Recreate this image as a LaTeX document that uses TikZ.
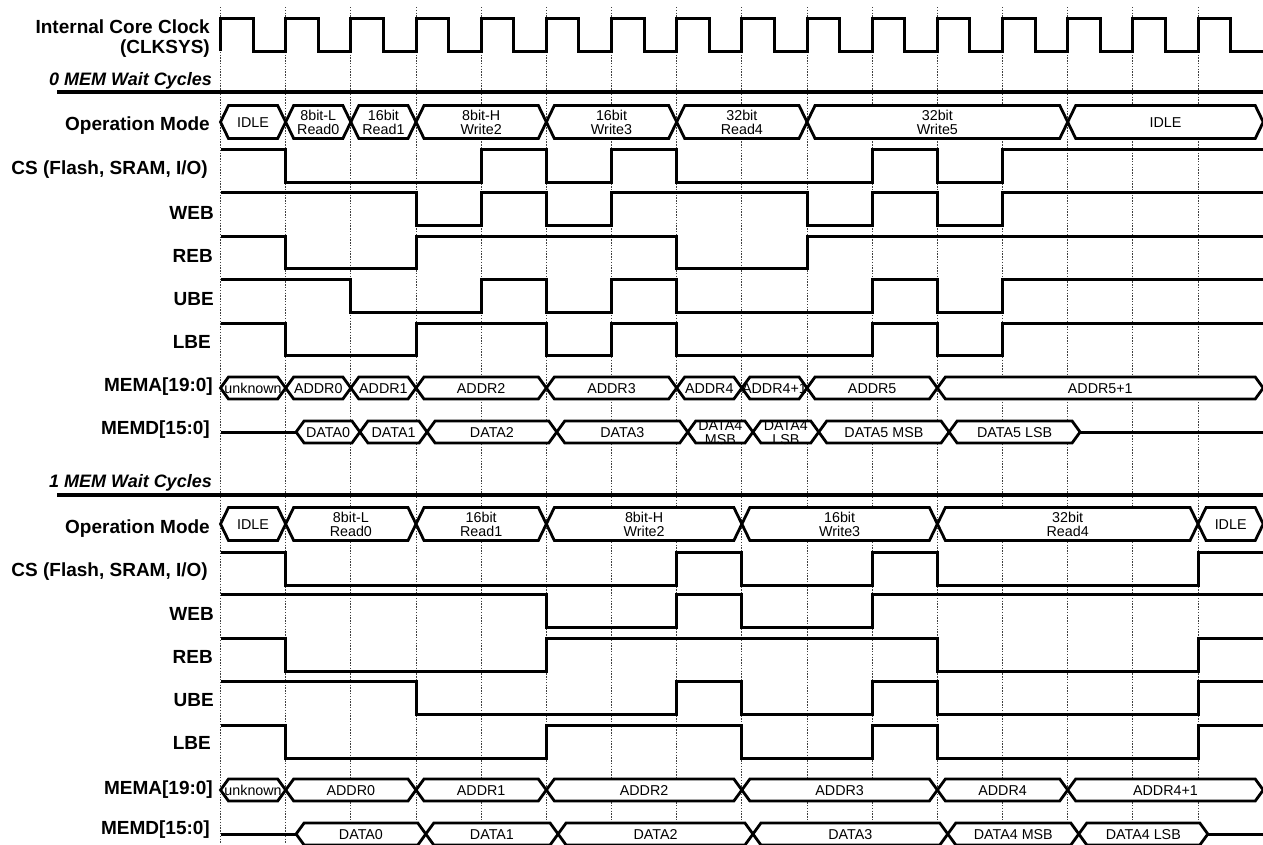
\documentclass[tikz,border=0pt]{standalone}
\usepackage{fontspec}
\setmainfont{Liberation Sans}

% one bus row: centre y, half height, list of from/to/text (in clock periods)
\newcommand{\busrow}[3]{
    \foreach \a/\b/\txt in {#3} {
        \pgfmathsetmacro{\xa}{220.5+65.17*\a}
        \pgfmathsetmacro{\xb}{220.5+65.17*\b}
        \draw[busedge] (\xa,#1) -- (\xa+8,#1-#2) -- (\xb-8,#1-#2) -- (\xb,#1)
            -- (\xb-8,#1+#2) -- (\xa+8,#1+#2) -- cycle;
    }
    \foreach \a/\b/\txt [count=\n] in {#3} {
        \pgfmathsetmacro{\xm}{220.5+65.17*(\a+\b)/2}
        \node[bustext] (bus#1n\n) at (\xm,#1+0.5) {\txt};
    }
}

\begin{document}
\begin{tikzpicture}[
    x=1pt, y=-1pt,
    sigline/.style={line width=3pt},
    busedge/.style={line width=2.8pt, fill=white},
    bustext/.style={inner sep=0pt, align=center, font=\fontsize{14.3}{14.5}\selectfont},
    barline/.style={line width=4.7pt},
    gridline/.style={black!75, line width=0.9pt, dash pattern=on 1.4pt off 1.4pt},
    siglabel/.style={left, inner sep=0pt, align=right, font=\fontsize{19}{20}\selectfont\bfseries},
    seclabel/.style={left, inner sep=0pt, font=\fontsize{18}{20}\selectfont\bfseries\itshape}
]
    \useasboundingbox (0,0) rectangle (1263,844);

    % Grid, one line per clock period
    \foreach \k in {0,...,15} {
        \pgfmathsetmacro{\gx}{220.5+65.17*\k}
        \draw[gridline] (\gx,7) -- (\gx,844);
    }

    % Section bars
    \draw[barline] (57,92) -- (1263,92);
    \draw[barline] (57,495) -- (1263,495);

    % Signal names
    \node[siglabel] (clklabel) at (210,39) {Internal Core Clock\\(CLKSYS)};
    \node[seclabel] (wait0) at (212,81) {0 MEM Wait Cycles};
    \node[seclabel] (wait1) at (212,483) {1 MEM Wait Cycles};
    \foreach \txt/\rx/\y in {Operation Mode/210/126, {CS (Flash, SRAM, I/O)}/208/170,
        WEB/214/213, REB/213/256, UBE/214/299, LBE/211/342,
        {MEMA[19:0]}/213/387, {MEMD[15:0]}/210/430,
        Operation Mode/210/529, {CS (Flash, SRAM, I/O)}/208/572,
        WEB/214/614, REB/213/657, UBE/214/700, LBE/211/743,
        {MEMA[19:0]}/213/790, {MEMD[15:0]}/210/830} {
        \node[siglabel] (name\y) at (\rx,\y) {\txt};
    }

    \begin{scope}[xshift=220.5pt, x=65.17pt]
        % Internal core clock
        \draw[sigline] (0,51) \foreach \k in {0,...,15} {
            -- (\k,18) -- (\k+0.5,18) -- (\k+0.5,51) -- (\k+1,51)
        };

        % 0 MEM wait cycles
        \draw[sigline] (0,149) -| (1,182.5) -| (4,149) -| (5,182.5) -| (6,149) -| (7,182.5) -| (10,149) -| (11,182.5) -| (12,149) -- (16,149);
        \draw[sigline] (0,192) -| (3,225) -| (4,192) -| (5,225) -| (6,192) -| (9,225) -| (10,192) -| (11,225) -| (12,192) -- (16,192);
        \draw[sigline] (0,236) -| (1,268.5) -| (3,236) -| (7,268.5) -| (9,236) -- (16,236);
        \draw[sigline] (0,279) -| (2,312) -| (4,279) -| (5,312) -| (6,279) -| (7,312) -| (10,279) -| (11,312) -| (12,279) -- (16,279);
        \draw[sigline] (0,323) -| (1,355.5) -| (3,323) -| (5,355.5) -| (6,323) -| (7,355.5) -| (10,323) -| (11,355.5) -| (12,323) -- (16,323);

        % 1 MEM wait cycles
        \draw[sigline] (0,552) -| (1,585) -| (7,552) -| (8,585) -| (10,552) -| (11,585) -| (15,552) -- (16,552);
        \draw[sigline] (0,594) -| (5,627) -| (7,594) -| (8,627) -| (10,594) -- (16,594);
        \draw[sigline] (0,638) -| (1,671) -| (5,638) -| (11,671) -| (15,638) -- (16,638);
        \draw[sigline] (0,681) -| (3,714) -| (7,681) -| (8,714) -| (10,681) -| (11,714) -| (15,681) -- (16,681);
        \draw[sigline] (0,725) -| (1,758) -| (5,725) -| (8,758) -| (10,725) -| (11,758) -| (15,725) -- (16,725);

        % Idle stretches of the data bus
        \draw[sigline] (0,432) -- (1.16,432);
        \draw[sigline] (13.19,432) -- (16,432);
        \draw[sigline] (0,834) -- (1.16,834);
        \draw[sigline] (15.15,834) -- (16,834);
    \end{scope}

    % Bus rows, 0 MEM wait cycles
    \busrow{122}{16.5}{0/1/IDLE, 1/2/{8bit-L\\Read0}, 2/3/{16bit\\Read1}, 3/5/{8bit-H\\Write2},
        5/7/{16bit\\Write3}, 7/9/{32bit\\Read4}, 9/13/{32bit\\Write5}, 13/16/IDLE}
    \busrow{388}{11}{0/1/unknown, 1/2/ADDR0, 2/3/ADDR1, 3/5/ADDR2, 5/7/ADDR3,
        7/8/ADDR4, 8/9/ADDR4+1, 9/11/ADDR5, 11/16/ADDR5+1}
    \busrow{432}{11}{1.16/2.14/DATA0, 2.14/3.17/DATA1, 3.17/5.16/DATA2, 5.16/7.17/DATA3,
        7.17/8.17/{DATA4\\MSB}, 8.17/9.18/{DATA4\\LSB}, 9.18/11.18/DATA5 MSB, 11.18/13.19/DATA5 LSB}

    % Bus rows, 1 MEM wait cycles
    \busrow{524}{16.5}{0/1/IDLE, 1/3/{8bit-L\\Read0}, 3/5/{16bit\\Read1}, 5/8/{8bit-H\\Write2},
        8/11/{16bit\\Write3}, 11/15/{32bit\\Read4}, 15/16/IDLE}
    \busrow{790}{11}{0/1/unknown, 1/3/ADDR0, 3/5/ADDR1, 5/8/ADDR2, 8/11/ADDR3,
        11/13/ADDR4, 13/16/ADDR4+1}
    \busrow{834}{11}{1.16/3.15/DATA0, 3.15/5.18/DATA1, 5.18/8.17/DATA2, 8.17/11.16/DATA3,
        11.16/13.17/DATA4 MSB, 13.17/15.15/DATA4 LSB}
\end{tikzpicture}
\end{document}
